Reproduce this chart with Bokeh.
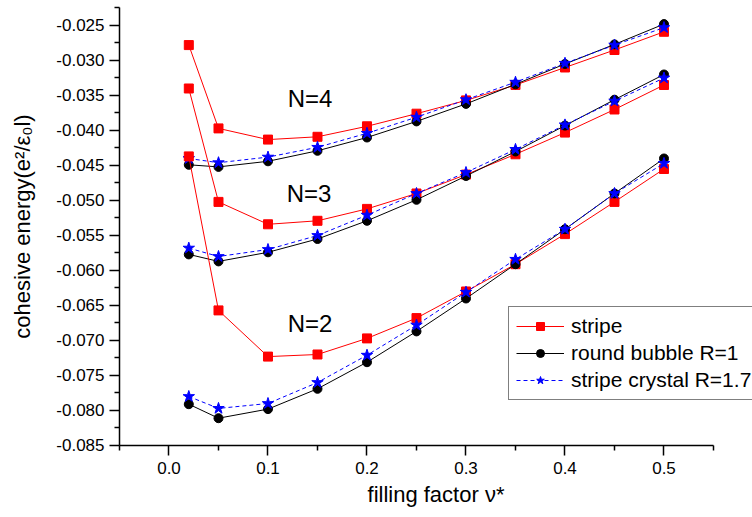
from bokeh.plotting import figure
from bokeh.models import Range1d, FixedTicker, PrintfTickFormatter, Legend, LegendItem
from bokeh.core.properties import value
from bokeh.embed import file_html
from bokeh.resources import INLINE

# ---- data -------------------------------------------------------------
filling = [0.02, 0.05, 0.10, 0.15, 0.20, 0.25, 0.30, 0.35, 0.40, 0.45, 0.50]

stripe_n4 = [-0.0278, -0.0397, -0.0413, -0.0409, -0.0394, -0.0376, -0.0357, -0.0335, -0.0310, -0.0285, -0.0259]
bubble_n4 = [-0.0449, -0.0452, -0.0444, -0.0429, -0.0410, -0.0387, -0.0362, -0.0334, -0.0305, -0.0277, -0.0248]
crystal_n4 = [-0.0440, -0.0446, -0.0438, -0.0424, -0.0404, -0.0381, -0.0356, -0.0331, -0.0304, -0.0278, -0.0253]

stripe_n3 = [-0.0340, -0.0502, -0.0534, -0.0529, -0.0512, -0.0490, -0.0463, -0.0434, -0.0403, -0.0370, -0.0335]
bubble_n3 = [-0.0577, -0.0587, -0.0574, -0.0555, -0.0529, -0.0499, -0.0465, -0.0430, -0.0393, -0.0356, -0.0320]
crystal_n3 = [-0.0568, -0.0580, -0.0570, -0.0550, -0.0521, -0.0490, -0.0460, -0.0427, -0.0392, -0.0358, -0.0325]

stripe_n2 = [-0.0437, -0.0657, -0.0723, -0.0720, -0.0697, -0.0668, -0.0630, -0.0591, -0.0548, -0.0502, -0.0455]
bubble_n2 = [-0.0791, -0.0811, -0.0798, -0.0769, -0.0731, -0.0687, -0.0640, -0.0591, -0.0541, -0.0490, -0.0440]
crystal_n2 = [-0.0780, -0.0797, -0.0790, -0.0760, -0.0721, -0.0678, -0.0631, -0.0584, -0.0541, -0.0490, -0.0447]

series_labels = ["stripe", "round bubble R=1", "stripe crystal R=1.7"]

x_ticks = [0.0, 0.1, 0.2, 0.3, 0.4, 0.5]
x_minor = [-0.05, 0.05, 0.15, 0.25, 0.35, 0.45, 0.55]
y_ticks = [-0.085, -0.080, -0.075, -0.070, -0.065, -0.060, -0.055, -0.050,
           -0.045, -0.040, -0.035, -0.030, -0.025]
y_minor = [-0.0825, -0.0775, -0.0725, -0.0675, -0.0625, -0.0575, -0.0525,
           -0.0475, -0.0425, -0.0375, -0.0325, -0.0275, -0.0225]

n_labels = ["N=4", "N=3", "N=2"]
n_label_x = [0.1424, 0.1414, 0.1424]
n_label_y = [-0.0354, -0.0490, -0.0676]

# ---- figure -----------------------------------------------------------
FONT = "Liberation Sans"

p = figure(width=752, height=515, frame_width=633, frame_height=438,
           min_border_left=119, min_border_right=0, min_border_top=7,
           min_border_bottom=70,
           x_range=Range1d(-0.05, 0.5894), y_range=Range1d(-0.0850001, -0.02243),
           output_backend="svg", toolbar_location=None)
p.outline_line_color = None
p.xgrid.visible = False
p.ygrid.visible = False
p.background_fill_color = "white"
p.border_fill_color = "white"

for ax in (p.xaxis[0], p.yaxis[0]):
    ax.axis_line_width = 1.5
    ax.major_tick_line_width = 1.5
    ax.minor_tick_line_width = 1.5
    ax.major_tick_in = 0
    ax.major_tick_out = 10
    ax.minor_tick_in = 0
    ax.minor_tick_out = 5
    ax.major_label_text_font = FONT
    ax.major_label_text_font_size = "17px"
    ax.major_label_text_color = "black"
    ax.axis_label_text_font = FONT
    ax.axis_label_text_font_size = "22px"
    ax.axis_label_text_font_style = "normal"
    ax.axis_label_text_color = "black"

p.xaxis[0].ticker = FixedTicker(ticks=x_ticks, minor_ticks=x_minor)
p.xaxis[0].formatter = PrintfTickFormatter(format="%.1f")
p.xaxis[0].bounds = (-0.05, 0.55)
p.xaxis[0].major_label_standoff = 6
p.xaxis[0].axis_label = "filling factor \u03bd*"
p.xaxis[0].axis_label_standoff = 5

p.yaxis[0].ticker = FixedTicker(ticks=y_ticks, minor_ticks=y_minor)
p.yaxis[0].formatter = PrintfTickFormatter(format="%.3f")
p.yaxis[0].major_label_standoff = 5
p.yaxis[0].axis_label = "cohesive energy(e\u00b2/\u03b5\u2080l)"
p.yaxis[0].axis_label_standoff = 18

styles = [
    dict(color="#ff0000", dash="solid", marker="square", size=9),
    dict(color="#000000", dash="solid", marker="circle", size=9),
    dict(color="#0000ff", dash="4 3", marker="star", size=12),
]
groups = [
    (stripe_n4, bubble_n4, crystal_n4),
    (stripe_n3, bubble_n3, crystal_n3),
    (stripe_n2, bubble_n2, crystal_n2),
]

legend_renderers = [[], [], []]
for g in groups:
    for k, ys in enumerate(g):
        st = styles[k]
        ln = p.line(filling, ys, line_color=st["color"], line_width=1,
                    line_dash=st["dash"])
        sc = p.scatter(filling, ys, marker=st["marker"], size=st["size"],
                       fill_color=st["color"], line_color=st["color"])
        if not legend_renderers[k]:
            legend_renderers[k] = [ln, sc]

p.text(x=n_label_x, y=n_label_y, text=n_labels, text_font=value(FONT),
       text_font_size="24px", text_align="center", text_baseline="middle",
       text_color="black")

legend = Legend(items=[LegendItem(label=series_labels[i], renderers=legend_renderers[i])
                       for i in range(3)],
                location=(389, 45))
legend.label_text_font = FONT
legend.label_text_font_size = "21px"
legend.label_text_color = "black"
legend.glyph_width = 48
legend.glyph_height = 20
legend.label_height = 20
legend.spacing = 3
legend.padding = 7
legend.margin = 0
legend.label_standoff = 7
legend.border_line_color = "black"
legend.border_line_width = 1
legend.background_fill_color = "white"
legend.background_fill_alpha = 1
p.add_layout(legend)

open("out.html", "w").write(file_html(p, INLINE))
